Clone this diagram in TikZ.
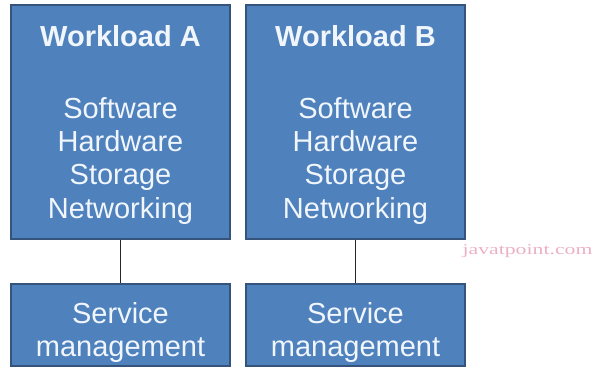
\documentclass[tikz,border=0pt]{standalone}
\usepackage{fontspec}
\setmainfont{Liberation Sans}
\newfontfamily\markfont{Liberation Serif}
\usepackage{tikz}
\usetikzlibrary{positioning}
\definecolor{boxblue}{RGB}{79,129,189}
\definecolor{boxline}{RGB}{52,84,124}
\definecolor{boxtext}{RGB}{240,246,252}
\definecolor{markpink}{RGB}{236,176,198}
\tikzset{
  wbox/.style={draw=boxline, line width=1.6pt, fill=boxblue, minimum width=219pt, inner sep=0pt},
  wtext/.style={text=boxtext, align=center, inner sep=0pt, font=\fontsize{29}{33.3}\selectfont}
}

\begin{document}
\begin{tikzpicture}[x=1pt,y=-1pt]
\useasboundingbox (0,0) rectangle (595,368);
\node[wbox, minimum height=234pt] (wlA) at (120.5,122) {};
\node[wbox, minimum height=234pt] (wlB) at (355.5,122) {};
\node[wbox, minimum height=82pt] (smA) at (120.5,325) {};
\node[wbox, minimum height=82pt] (smB) at (355.5,325) {};
\draw[line width=1.2pt,black!85] (wlA) -- (smA);
\draw[line width=1.2pt,black!85] (wlB) -- (smB);
\node[wtext, anchor=base, font=\fontsize{29}{33.3}\selectfont\bfseries] (titleA) at (120.5,46) {Workload A};
\node[wtext, anchor=base, font=\fontsize{29}{33.3}\selectfont\bfseries] (titleB) at (355.5,46) {Workload B};
\node[wtext, anchor=north] (listA) at (120.5,97) {Software\\Hardware\\Storage\\Networking};
\node[wtext, anchor=north] (listB) at (355.5,97) {Software\\Hardware\\Storage\\Networking};
\node[wtext, anchor=north] (svcA) at (120.5,302) {Service\\management};
\node[wtext, anchor=north] (svcB) at (355.5,302) {Service\\management};
\node[text=markpink, font=\markfont\fontsize{15}{15}\selectfont, xscale=1.45, anchor=base] (mark) at (527.5,254) {javatpoint.com};
\end{tikzpicture}
\end{document}
